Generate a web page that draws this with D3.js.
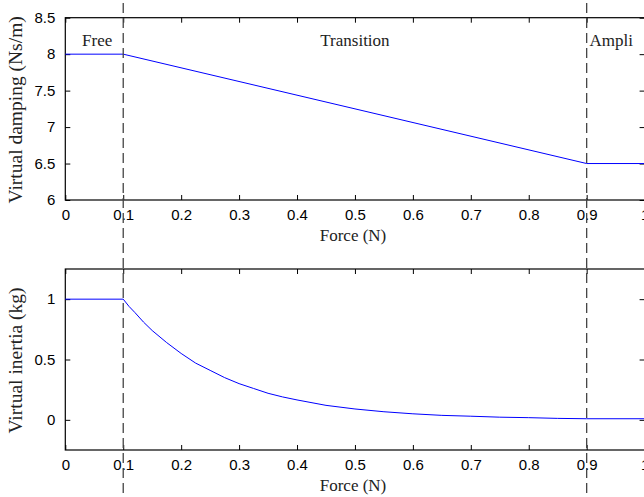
<!DOCTYPE html>
<html><head><meta charset="utf-8">
<script src="https://cdn.jsdelivr.net/npm/d3@7"></script>
<style>html,body{margin:0;padding:0;background:#fff;overflow:hidden}</style>
</head><body>
<svg id="c" width="644" height="497"></svg>
<script>
// ---- data ----
const forceTicks = [0,0.1,0.2,0.3,0.4,0.5,0.6,0.7,0.8,0.9,1.0];
const dampingTicks = [6,6.5,7,7.5,8,8.5];
const inertiaTicks = [0,0.5,1];
const dampingX = [0, 0.1, 0.9, 1.0];
const dampingY = [8, 8, 6.5, 6.5];
const inertiaX = [0, 0.1, 0.11, 0.12, 0.135, 0.15, 0.175, 0.2, 0.225, 0.25, 0.275, 0.3, 0.325, 0.35, 0.375, 0.4, 0.45, 0.5, 0.55, 0.6, 0.65, 0.7, 0.75, 0.8, 0.85, 0.9, 1.0];
const inertiaY = [1, 1, 0.94, 0.89, 0.81, 0.74, 0.64, 0.55, 0.47, 0.41, 0.35, 0.30, 0.26, 0.22, 0.19, 0.165, 0.12, 0.09, 0.067, 0.05, 0.037, 0.03, 0.022, 0.018, 0.012, 0.009, 0.009];
const boundaries = [0.1, 0.9];
const regionLabels = ["Free", "Transition", "Ampli"];
const regionLabelX = [0.055, 0.5, 0.905];

const svg = d3.select("#c");
const left = 65.3, right = 644.6;
const x = d3.scaleLinear().domain([0,1]).range([left, right]);
const serif = "'Liberation Serif','Times New Roman',serif";
const sans = "'Liberation Sans',Arial,Helvetica,sans-serif";

function panel(top, bottom, domain, yTicks, xs, ys, ylabel) {
  const y = d3.scaleLinear().domain(domain).range([bottom, top]);
  const g = svg.append("g");
  const fmt = d => String(d);
  const ax = (axis, tx, ty) => {
    const a = g.append("g").attr("transform", `translate(${tx},${ty})`).call(axis);
    a.select(".domain").remove();
    a.selectAll("line").attr("stroke", "#000");
    a.selectAll("text").attr("font-family", sans).attr("font-size", 15).attr("fill", "#000");
    return a;
  };
  ax(d3.axisBottom(x).tickValues(forceTicks).tickFormat(fmt).tickSizeInner(-5).tickSizeOuter(0).tickPadding(9), 0, bottom);
  ax(d3.axisTop(x).tickValues(forceTicks).tickFormat("").tickSizeInner(-5).tickSizeOuter(0), 0, top);
  ax(d3.axisLeft(y).tickValues(yTicks).tickFormat(fmt).tickSizeInner(-5).tickSizeOuter(0).tickPadding(10), left, 0);
  ax(d3.axisRight(y).tickValues(yTicks).tickFormat("").tickSizeInner(-5).tickSizeOuter(0), right, 0);
  g.append("rect").attr("x", left).attr("y", top).attr("width", right-left).attr("height", bottom-top)
    .attr("fill", "none").attr("stroke", "#000").attr("stroke-width", 1.2);
  const pts = xs.map((v,i) => [v, ys[i]]);
  g.append("path").datum(pts)
    .attr("d", d3.line().x(d => x(d[0])).y(d => y(d[1])))
    .attr("fill", "none").attr("stroke", "#0000ff").attr("stroke-width", 1);
  g.append("text").attr("x", 353).attr("y", bottom + 41).attr("text-anchor", "middle")
    .attr("font-family", serif).attr("font-size", 17).attr("fill", "#222").text("Force (N)");
  g.append("text").attr("transform", `translate(22,${(top+bottom)/2 + 1}) rotate(-90)`)
    .attr("text-anchor", "middle").attr("font-family", serif).attr("font-size", 19.5).attr("fill", "#222").text(ylabel);
  return y;
}

panel(17.7, 200, [6, 8.5], dampingTicks, dampingX, dampingY, "Virtual damping (Ns/m)");
panel(269, 450, [-0.25, 1.25], inertiaTicks, inertiaX, inertiaY, "Virtual inertia (kg)");

// region labels
regionLabels.forEach((t, i) => {
  svg.append("text").attr("x", x(regionLabelX[i])).attr("y", 46)
    .attr("text-anchor", i === 2 ? "start" : "middle")
    .attr("font-family", serif).attr("font-size", 17).attr("fill", "#222").text(t);
});

// dashed boundaries
boundaries.forEach(b => {
  svg.append("line").attr("x1", x(b)).attr("x2", x(b)).attr("y1", 3).attr("y2", 497)
    .attr("stroke", "#444").attr("stroke-width", 1.3).attr("stroke-dasharray", "10,5");
});
</script>
</body></html>
